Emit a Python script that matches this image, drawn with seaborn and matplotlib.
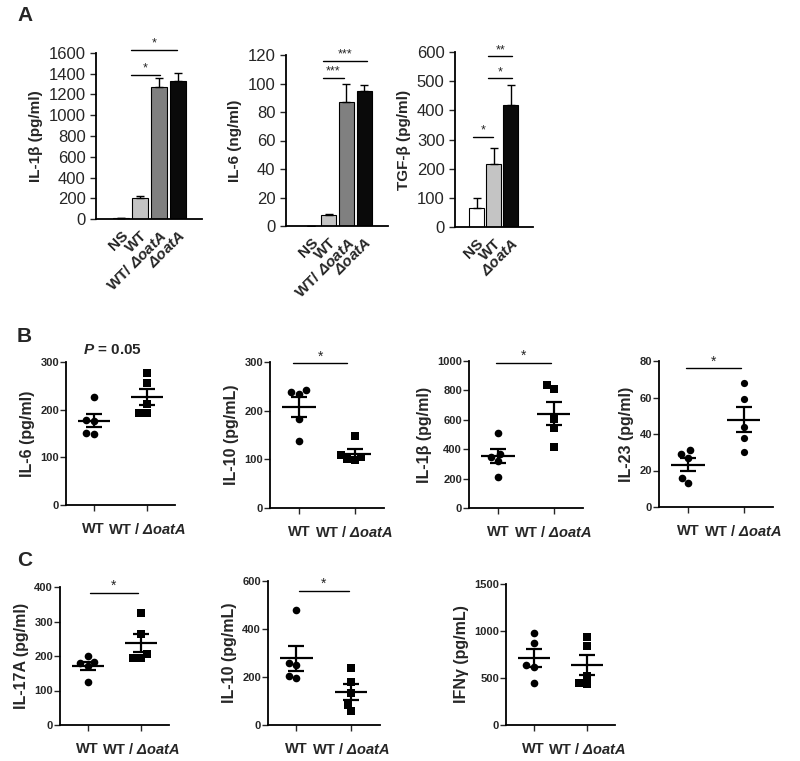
import numpy as np
import pandas as pd
import matplotlib
matplotlib.use('Agg')
import matplotlib.pyplot as plt
import seaborn as sns

sns.set_style('ticks')
plt.rcParams['font.family'] = ['Liberation Sans', 'DejaVu Sans']
plt.rcParams['mathtext.fontset'] = 'custom'
plt.rcParams['mathtext.it'] = 'Liberation Sans:italic:bold'
plt.rcParams['mathtext.rm'] = 'Liberation Sans:italic:bold'
plt.rcParams['mathtext.bf'] = 'Liberation Sans:bold'

# ---------------- data ----------------
a_groups4 = ['NS', 'WT', 'WT/ ΔoatA', 'ΔoatA']
a_labels4 = ['NS', 'WT', r'WT/ $\mathit{ΔoatA}$', r'$\mathit{ΔoatA}$']
a_groups3 = ['NS', 'WT', 'ΔoatA']
a_labels3 = ['NS', 'WT', r'$\mathit{ΔoatA}$']

a1_il1b = [8, 205, 1275, 1330]
a1_err = [0, 20, 80, 75]
a2_il6 = [0.3, 7.5, 87, 95]
a2_err = [0, 0.6, 13, 4]
a3_tgfb = [65, 215, 420]
a3_err = [35, 55, 68]

pair_groups = ['WT', 'WT / ΔoatA']
pair_labels = ['WT', r'WT / $\mathit{ΔoatA}$']

b_il6_wt = [226, 178, 176, 152, 150]
b_il6_mut = [277, 256, 212, 193, 193]
b_il10_wt = [243, 235, 238, 183, 138]
b_il10_mut = [148, 108, 100, 98, 105]
b_il1b_wt = [510, 345, 370, 320, 210]
b_il1b_mut = [810, 837, 605, 544, 415]
b_il23_wt = [29, 31, 27, 16, 13]
b_il23_mut = [68, 59, 44, 38, 30]

c_il17a_wt = [200, 180, 182, 170, 125]
c_il17a_mut = [325, 265, 205, 195, 195]
c_il10_wt = [479, 260, 250, 205, 195]
c_il10_mut = [238, 178, 135, 85, 57]
c_ifng_wt = [975, 870, 640, 620, 450]
c_ifng_mut = [940, 840, 520, 450, 440]

W, H = 800, 761
fig = plt.figure(figsize=(W / 100, H / 100), dpi=100)


def add_ax(l, r, t, b):
    return fig.add_axes([l / W, 1 - b / H, (r - l) / W, (b - t) / H])


def style_ax(ax):
    sns.despine(ax=ax)
    for s in ['left', 'bottom']:
        ax.spines[s].set_linewidth(1.3)
        ax.spines[s].set_color('black')


def sig(ax, x1, x2, y, txt, fs=9, dy=0.0):
    ax.plot([x1, x2], [y, y], color='black', lw=1.0, clip_on=False)
    ax.text((x1 + x2) / 2, y + dy, txt, ha='center', va='bottom', fontsize=fs, clip_on=False)


# ---------------- Panel A ----------------
def bar_panel(ax, groups, labels, vals, errs, colors, ylim, yticks, ylabel, xlim):
    df = pd.DataFrame({'g': groups, 'v': vals})
    sns.barplot(data=df, x='g', y='v', hue='g', palette=colors, order=groups,
                edgecolor='black', linewidth=0.8, width=0.85, errorbar=None,
                legend=False, ax=ax)
    x = np.arange(len(groups))
    ax.errorbar(x, vals, yerr=[np.zeros(len(errs)), errs], fmt='none',
                ecolor='black', elinewidth=1.0, capsize=3, capthick=1.0)
    ax.set_ylim(*ylim)
    ax.set_yticks(yticks)
    ax.set_xlim(*xlim)
    ax.set_xticks(x)
    ax.set_xticklabels(labels, rotation=45, ha='right', rotation_mode='anchor',
                       fontweight='bold', fontsize=11)
    ax.tick_params(axis='x', length=0, pad=7)
    ax.tick_params(axis='y', labelsize=12, length=4, width=1)
    ax.set_ylabel(ylabel, fontweight='bold', fontsize=11)
    ax.set_xlabel('')
    style_ax(ax)


cols4 = ['white', '#c4c4c4', '#808080', '#0a0a0a']
cols3 = ['white', '#c4c4c4', '#0a0a0a']

ax = add_ax(96, 202, 53, 219)
bar_panel(ax, a_groups4, a_labels4, a1_il1b, a1_err, cols4, (0, 1600),
          range(0, 1601, 200), 'IL-1β (pg/ml)', (-1.3, 4.25))
sig(ax, 0.55, 2.95, 1630, '*')
sig(ax, 0.55, 2.05, 1390, '*')

ax = add_ax(286, 388, 55, 226)
bar_panel(ax, a_groups4, a_labels4, a2_il6, a2_err, cols4, (0, 120),
          range(0, 121, 20), 'IL-6 (ng/ml)', (-1.4, 4.35))
sig(ax, 0.68, 3.15, 116, '***')
sig(ax, 0.68, 1.85, 104, '***')

ax = add_ax(455, 533, 52, 227)
bar_panel(ax, a_groups3, a_labels3, a3_tgfb, a3_err, cols3, (0, 600),
          range(0, 601, 100), 'TGF-β (pg/ml)', (-1.26, 3.3))
sig(ax, 0.68, 2.1, 586, '**')
sig(ax, 0.68, 2.1, 511, '*')
sig(ax, -0.2, 0.97, 309, '*')


# ---------------- Panels B / C ----------------
def dot_panel(ax, wt, mut, ylim, yticks, ylabel, mut_marker='s'):
    df = pd.DataFrame({'g': ['WT'] * len(wt) + ['WT / ΔoatA'] * len(mut),
                       'v': list(wt) + list(mut)})
    sns.swarmplot(data=df[df.g == 'WT'], x='g', y='v', order=pair_groups,
                  color='black', marker='o', size=5.5, ax=ax)
    sns.swarmplot(data=df[df.g != 'WT'], x='g', y='v', order=pair_groups,
                  color='black', marker=mut_marker, size=5.2, ax=ax)
    for i, g in enumerate(pair_groups):
        v = df.loc[df.g == g, 'v'].to_numpy(float)
        m = v.mean()
        se = v.std(ddof=1) / np.sqrt(len(v))
        ax.hlines(m, i - 0.3, i + 0.3, color='black', lw=1.6, zorder=5)
        ax.errorbar(i, m, yerr=se, fmt='none', ecolor='black', elinewidth=1.6,
                    capsize=6, capthick=1.6, zorder=5)
    ax.set_ylim(*ylim)
    ax.set_yticks(yticks)
    ax.set_xlim(-0.52, 1.53)
    ax.set_xticks([0, 1])
    ax.set_xticklabels(pair_labels, fontweight='bold', fontsize=10.5)
    ax.tick_params(axis='x', length=4, width=1, pad=8)
    ax.tick_params(axis='y', length=4, width=1, labelsize=8, pad=1)
    for t in ax.get_yticklabels():
        t.set_fontweight('bold')
    ax.set_ylabel(ylabel, fontweight='bold', fontsize=11.5)
    ax.set_xlabel('')
    style_ax(ax)


ax = add_ax(66, 175, 362, 505)
dot_panel(ax, b_il6_wt, b_il6_mut, (0, 300), [0, 100, 200, 300], 'IL-6 (pg/ml)')
ax.text(0.35, 310, r'$\mathit{P}$ = 0.05', ha='center', va='bottom', fontsize=11,
        fontweight='bold')

ax = add_ax(270, 384, 362, 508)
dot_panel(ax, b_il10_wt, b_il10_mut, (0, 300), [0, 100, 200, 300], 'IL-10 (pg/mL)')
sig(ax, -0.1, 0.86, 297, '*', fs=10)

ax = add_ax(469, 583, 361, 508)
dot_panel(ax, b_il1b_wt, b_il1b_mut, (0, 1000), range(0, 1001, 200), 'IL-1β (pg/ml)')
sig(ax, -0.04, 0.96, 986, '*', fs=10)

ax = add_ax(659, 773, 361, 507)
dot_panel(ax, b_il23_wt, b_il23_mut, (0, 80), range(0, 81, 20), 'IL-23 (pg/ml)',
          mut_marker='o')
sig(ax, -0.04, 0.96, 76, '*', fs=10)

ax = add_ax(60, 169, 587, 725)
dot_panel(ax, c_il17a_wt, c_il17a_mut, (0, 400), range(0, 401, 100), 'IL-17A (pg/ml)')
sig(ax, 0.04, 0.94, 383, '*', fs=10)

ax = add_ax(268, 380, 581, 725)
dot_panel(ax, c_il10_wt, c_il10_mut, (0, 600), range(0, 601, 200), 'IL-10 (pg/mL)')
sig(ax, 0.05, 0.96, 558, '*', fs=10)

ax = add_ax(506, 615, 584, 725)
dot_panel(ax, c_ifng_wt, c_ifng_mut, (0, 1500), range(0, 1501, 500), 'IFNγ (pg/mL)')

# panel letters
fig.text(17 / W, 1 - 6 / H, 'A', fontsize=15, fontweight='bold', va='top')
fig.text(17 / W, 1 - 327 / H, 'B', fontsize=15, fontweight='bold', va='top')
fig.text(17 / W, 1 - 551 / H, 'C', fontsize=15, fontweight='bold', va='top')

fig.savefig('out.png', dpi=100)
